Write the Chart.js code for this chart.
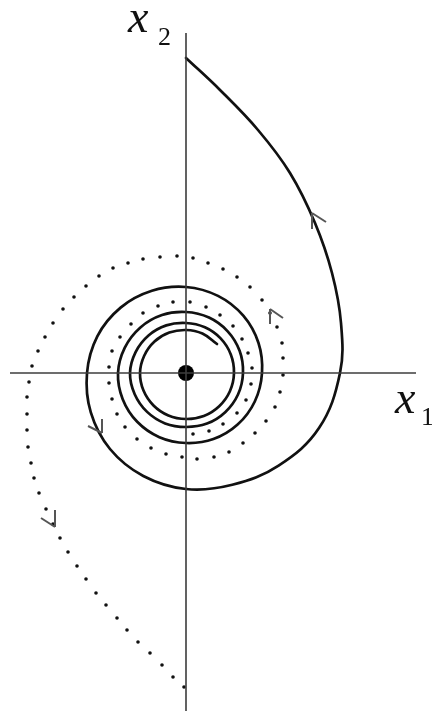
<!DOCTYPE html>
<html>
<head>
<meta charset="utf-8">
<script src="https://cdn.jsdelivr.net/npm/chart.js@4/dist/chart.umd.min.js"></script>
<style>
  html, body { margin: 0; padding: 0; background: #ffffff; }
  #wrap { width: 432px; height: 711px; position: relative; }
</style>
</head>
<body>
<div id="wrap"><canvas id="c"></canvas></div>
<script>
// Phase-plane data (units: one unit per screen pixel, origin at the equilibrium)
const xAxisLine = [[-176, 0], [230, 0]];
const yAxisLine = [[0, 340], [0, -338]];
const equilibrium = [[0, 0]];

// solid trajectory, from inner end spiralling outward (counter-clockwise) to its start on the x2 axis
const solidTrajectory = [
  [31, 29], [16.4, 39.5], [0, 43], [-16.7, 40.4], [-31.5, 31.5], [-41.8, 17.3],
  [-46, 0], [-42.5, -17.6], [-32.5, -32.5], [-17.6, -42.5], [0, -46], [17.8, -43],
  [33.2, -33.2], [43.9, -18.2], [48, 0], [44.8, 18.6], [34.6, 34.6], [18.9, 45.7],
  [0, 50], [-19.7, 47.6], [-37.5, 37.5], [-50.4, 20.9], [-56, 0], [-51.3, -21.2],
  [-38.9, -38.9], [-20.9, -50.4], [0, -54], [21, -50.6], [39.2, -39.2], [52, -21.5],
  [57, 0], [53.6, 22.2], [41.7, 41.7], [23, 55.4], [0, 61], [-24, 58],
  [-45.6, 45.6], [-61.2, 25.4], [-68, 0], [-63.3, -26.2], [-48.8, -48.8], [-26.6, -64.2],
  [0, -70], [27.4, -66.1], [51.6, -51.6], [68.8, -28.5], [76, 0], [72.5, 30],
  [57.3, 57.3], [32, 77.1], [0, 86], [-34.1, 82.2], [-65.4, 65.4], [-88.7, 36.7],
  [-99, 0], [-95.2, -39.4], [-76, -76], [-42.7, -103], [0, -116], [46.3, -111.8],
  [92.6, -92.6], [133, -55.1], [154, 0], [155, 50], [146, 100], [129, 150],
  [104, 200], [72, 243], [34, 283], [0, 315]
];

// dotted trajectory, from inner end spiralling outward to its start on the lower x2 axis
const dottedTrajectory = [
  [7, -61], [23, -58], [37, -51], [51, -40], [60, -27], [65, -11], [66, 5], [62, 20],
  [56, 34], [47, 47], [34, 58], [20, 66], [4, 71], [-13, 71], [-28, 67], [-43, 60],
  [-55, 49], [-66, 36], [-74, 22], [-77, 6], [-77, -10], [-74, -26], [-69, -41], [-61, -54],
  [-49, -66], [-35, -75], [-20, -81], [-4, -84], [11, -86], [28, -84], [43, -79], [57, -70],
  [69, -60], [80, -48], [89, -34], [94, -19], [97, -2], [97, 15], [96, 30], [91, 46],
  [84, 60], [76, 73], [64, 86], [51, 96], [37, 104], [22, 110], [7, 115], [-9, 117],
  [-26, 116], [-43, 114], [-58, 110], [-73, 105], [-87, 97], [-100, 87], [-112, 76],
  [-123, 64], [-133, 50], [-141, 36], [-148, 22], [-154, 7], [-157, -9], [-159, -24],
  [-159, -41], [-159, -57], [-158, -74], [-155, -90], [-152, -105], [-147, -120],
  [-140, -136], [-133, -151], [-126, -165], [-118, -179], [-109, -193], [-100, -206],
  [-90, -220], [-80, -232], [-69, -245], [-59, -257], [-48, -269], [-36, -280],
  [-24, -292], [-13, -304], [-2, -314]
];

// direction chevrons: vertex point plus the two arm directions
const arrowMarks = [
  { x: 126, y: 160, arms: [[0, -16], [14, -9]] },
  { x: -84, y: -60, arms: [[0, 14], [-14, 7]] },
  { x: 84, y: 64, arms: [[0, -15], [13, -9]] },
  { x: -131, y: -154, arms: [[0, 17], [-14, 9]] }
];

// axis labels: main letter and subscript, anchored at data points
const axisLabels = [
  { main: 'x', sub: '2', x: -58, y: 341, subX: -28, subY: 328 },
  { main: 'x', sub: '1', x: 209, y: -40, subX: 235, subY: -52 }
];

const toPts = arr => arr.map(p => ({ x: p[0], y: p[1] }));

const extras = {
  id: 'extras',
  afterDatasetsDraw(chart) {
    const { ctx, scales } = chart;
    const xs = scales.x, ys = scales.y;
    ctx.save();
    ctx.strokeStyle = '#555555';
    ctx.lineWidth = 2;
    ctx.lineCap = 'butt';
    arrowMarks.forEach(a => {
      const px = xs.getPixelForValue(a.x), py = ys.getPixelForValue(a.y);
      a.arms.forEach(d => {
        ctx.beginPath();
        ctx.moveTo(px, py);
        ctx.lineTo(px + d[0], py - d[1]);
        ctx.stroke();
      });
    });
    ctx.fillStyle = '#111111';
    ctx.textBaseline = 'alphabetic';
    ctx.textAlign = 'left';
    axisLabels.forEach(l => {
      ctx.font = 'italic 46px "Liberation Serif", "DejaVu Serif", serif';
      ctx.fillText(l.main, xs.getPixelForValue(l.x), ys.getPixelForValue(l.y));
      ctx.font = '26px "Liberation Serif", "DejaVu Serif", serif';
      ctx.fillText(l.sub, xs.getPixelForValue(l.subX), ys.getPixelForValue(l.subY));
    });
    ctx.restore();
  }
};

new Chart(document.getElementById('c'), {
  type: 'scatter',
  data: {
    datasets: [
      { data: toPts(xAxisLine), showLine: true, borderColor: '#3c3c3c', borderWidth: 1.6, pointRadius: 0 },
      { data: toPts(yAxisLine), showLine: true, borderColor: '#3c3c3c', borderWidth: 1.6, pointRadius: 0 },
      { data: toPts(solidTrajectory), showLine: true, borderColor: '#111111', borderWidth: 2.7,
        tension: 0.38, pointRadius: 0, borderCapStyle: 'round', borderJoinStyle: 'round' },
      { data: toPts(dottedTrajectory), showLine: false, pointRadius: 1.8, pointBorderWidth: 0,
        pointBackgroundColor: '#111111' },
      { data: toPts(equilibrium), pointRadius: 8, pointBackgroundColor: '#000000', pointBorderWidth: 0 }
    ]
  },
  options: {
    responsive: true,
    maintainAspectRatio: false,
    animation: false,
    layout: { padding: 0, autoPadding: false },
    clip: false,
    plugins: { legend: { display: false }, tooltip: { enabled: false } },
    scales: {
      x: { type: 'linear', min: -186, max: 246, display: false },
      y: { type: 'linear', min: -338, max: 373, display: false }
    },
    elements: { point: { hoverRadius: 0 } }
  },
  plugins: [extras]
});
</script>
</body>
</html>
